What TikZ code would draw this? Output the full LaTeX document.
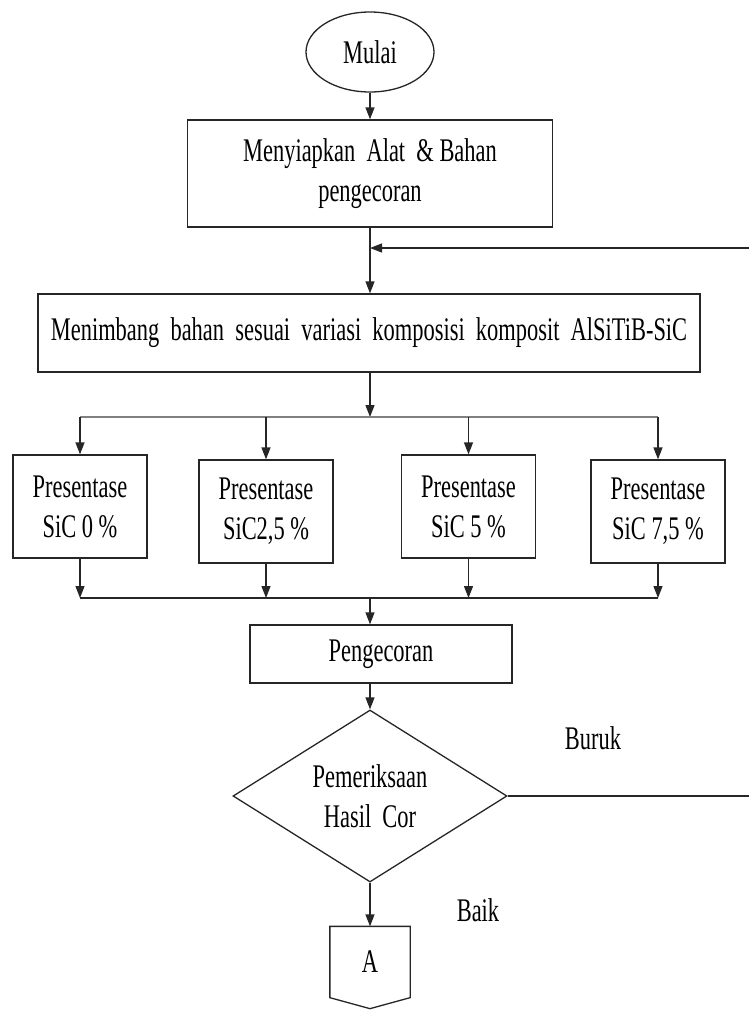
\documentclass[tikz,border=0pt]{standalone}
\usepackage{fontspec}
\setmainfont{Liberation Serif}[FakeStretch=0.68]
\usetikzlibrary{arrows.meta,shapes.geometric}

\begin{document}
\begin{tikzpicture}[x=1pt, y=-1pt, line width=1.3pt, draw=black!85,
             >={Triangle[length=12pt,width=9pt]},
             every node/.style = {inner sep=0pt, align=center,
                                  font=\fontsize{33}{40}\selectfont},
             kotak/.style = {draw, shape=rectangle},
             persen/.style = {kotak, minimum width=134pt, minimum height=103pt}]
\useasboundingbox (0,0) rectangle (749,1010);

\node (mulai) at (370,52) [draw, shape=ellipse, minimum width=128pt, minimum height=80pt] {Mulai};
\node (siap) at (370,173.5) [kotak, minimum width=365pt, minimum height=107pt] {Menyiapkan~ Alat~ \& Bahan\\pengecoran};
\node (timbang) at (369,333) [kotak, minimum width=662pt, minimum height=78pt] {Menimbang~ bahan~ sesuai~ variasi~ komposisi~ komposit~ AlSiTiB-SiC};

\coordinate (bagi) at (370,417);
\node (p1) at (80,506.5) [persen] {Presentase\\SiC 0\,\%};
\node (p2) at (266,511.5) [persen] {Presentase\\SiC2,5\,\%};
\node (p3) at (468.5,506.5) [persen] {Presentase\\SiC 5\,\%};
\node (p4) at (658,511.5) [persen] {Presentase\\SiC 7,5\,\%};
\coordinate (gabung) at (370,598);

\node (cor) at (381,654) [kotak, minimum width=262pt, minimum height=58pt] {Pengecoran};
\node (cek) at (370,796) [draw, shape=diamond, aspect=1.6, minimum width=274pt, minimum height=172pt] {Pemeriksaan\\Hasil~ Cor};
\node (A) at (370,962) [minimum width=79pt, minimum height=70pt] {A};
\draw (A.north west) -- (A.north east) -- (A.south east) -- ([yshift=-11pt]A.south) -- (A.south west) -- cycle;

\node (buruk) at (593,738) {Buruk};
\node (baik) at (478,910) {Baik};
\coordinate (balik) at (758,248);

\draw [->] (mulai) -- (siap);
\draw [->] (siap) -- (timbang.north -| siap);
\draw [->] (timbang.south -| bagi) -- (bagi);
\draw [draw=black!50, line width=2.2pt] (p1.north |- bagi) -- (p4.north |- bagi);
\foreach \p in {p1,p2,p3,p4} {
  \draw [->] (\p.north |- bagi) -- (\p.north);
  \draw [->] (\p.south) -- (\p.south |- gabung);
}
\draw (p1.south |- gabung) -- (p4.south |- gabung);
\draw [->] (gabung) -- (gabung |- cor.north);
\draw [->] (cor.south -| cek) -- (cek);
\draw [->] (cek) -- (A);
\draw [->] (cek.east) -| (balik) -- (balik -| siap);

\end{tikzpicture}
\end{document}
